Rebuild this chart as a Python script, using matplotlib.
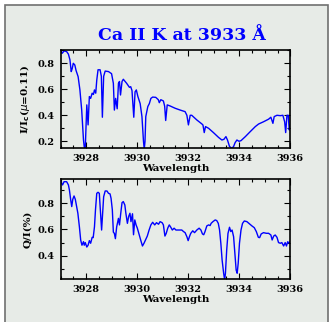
import numpy as np
import matplotlib
matplotlib.use('Agg')
import matplotlib.pyplot as plt
from matplotlib.patches import Rectangle
from matplotlib.ticker import MultipleLocator

# intensity profile I/Ic (mu=0.11)
wl_i = [3927.00, 3927.07, 3927.14, 3927.24, 3927.31, 3927.37, 3927.42, 3927.46, 3927.50,
        3927.56, 3927.61, 3927.69, 3927.76, 3927.83, 3927.90, 3927.93, 3927.97, 3928.03,
        3928.08, 3928.13, 3928.18, 3928.24, 3928.29, 3928.33, 3928.38, 3928.42, 3928.47,
        3928.55, 3928.60, 3928.64, 3928.69, 3928.75, 3928.88, 3929.00, 3929.07, 3929.11,
        3929.16, 3929.22, 3929.27, 3929.31, 3929.35, 3929.41, 3929.46, 3929.59, 3929.70,
        3929.75, 3929.80, 3929.87, 3929.92, 3929.97, 3930.03, 3930.12, 3930.19, 3930.25,
        3930.28, 3930.31, 3930.34, 3930.42, 3930.48, 3930.54, 3930.61, 3930.73, 3930.83,
        3930.87, 3930.93, 3931.03, 3931.08, 3931.12, 3931.18, 3931.29, 3931.49, 3931.69,
        3931.88, 3931.95, 3932.01, 3932.08, 3932.14, 3932.34, 3932.54, 3932.58, 3932.63,
        3932.68, 3932.80, 3932.99, 3933.19, 3933.32, 3933.40, 3933.48, 3933.54, 3933.62,
        3933.71, 3933.78, 3933.84, 3933.91, 3933.99, 3934.07, 3934.24, 3934.43, 3934.63,
        3934.76, 3934.95, 3935.15, 3935.24, 3935.32, 3935.37, 3935.48, 3935.61, 3935.71,
        3935.78, 3935.82, 3935.87, 3935.92, 3935.96, 3936.00]
inten = [0.900, 0.877, 0.895, 0.890, 0.870, 0.826, 0.736, 0.760, 0.800,
         0.787, 0.744, 0.697, 0.595, 0.440, 0.210, 0.155, 0.150, 0.480,
         0.326, 0.544, 0.530, 0.570, 0.560, 0.595, 0.570, 0.670, 0.750,
         0.750, 0.700, 0.385, 0.700, 0.740, 0.736, 0.720, 0.646, 0.440,
         0.530, 0.450, 0.646, 0.660, 0.556, 0.660, 0.677, 0.646, 0.615,
         0.620, 0.590, 0.385, 0.580, 0.595, 0.545, 0.490, 0.390, 0.200,
         0.140, 0.200, 0.390, 0.467, 0.490, 0.530, 0.540, 0.538, 0.520,
         0.497, 0.520, 0.510, 0.470, 0.360, 0.480, 0.472, 0.454, 0.440,
         0.428, 0.400, 0.326, 0.400, 0.400, 0.364, 0.333, 0.325, 0.267,
         0.313, 0.300, 0.267, 0.230, 0.210, 0.215, 0.236, 0.210, 0.160,
         0.146, 0.160, 0.190, 0.210, 0.200, 0.205, 0.236, 0.274, 0.313,
         0.333, 0.350, 0.370, 0.385, 0.338, 0.390, 0.400, 0.397, 0.400,
         0.350, 0.267, 0.400, 0.400, 0.287, 0.326]

# linear polarization Q/I
wl_q = [3927.00, 3927.05, 3927.08, 3927.14, 3927.24, 3927.31, 3927.35, 3927.40, 3927.44,
        3927.48, 3927.53, 3927.58, 3927.63, 3927.68, 3927.74, 3927.79, 3927.84, 3927.90,
        3927.93, 3927.97, 3928.03, 3928.08, 3928.13, 3928.18, 3928.24, 3928.28, 3928.33,
        3928.37, 3928.42, 3928.47, 3928.52, 3928.56, 3928.61, 3928.65, 3928.69, 3928.75,
        3928.82, 3928.88, 3928.94, 3928.98, 3929.03, 3929.07, 3929.11, 3929.15, 3929.20,
        3929.27, 3929.31, 3929.36, 3929.41, 3929.46, 3929.52, 3929.56, 3929.62, 3929.67,
        3929.72, 3929.76, 3929.82, 3929.86, 3929.91, 3929.96, 3930.01, 3930.08, 3930.14,
        3930.21, 3930.27, 3930.34, 3930.40, 3930.47, 3930.54, 3930.61, 3930.69, 3930.76,
        3930.84, 3930.90, 3930.98, 3931.03, 3931.09, 3931.14, 3931.20, 3931.26, 3931.32,
        3931.38, 3931.45, 3931.52, 3931.62, 3931.75, 3931.82, 3931.88, 3931.95, 3932.00,
        3932.05, 3932.10, 3932.18, 3932.25, 3932.34, 3932.43, 3932.50, 3932.56, 3932.61,
        3932.66, 3932.73, 3932.80, 3932.86, 3932.90, 3932.97, 3933.06, 3933.12, 3933.18,
        3933.23, 3933.28, 3933.33, 3933.39, 3933.43, 3933.46, 3933.51, 3933.56, 3933.62,
        3933.67, 3933.72, 3933.78, 3933.83, 3933.88, 3933.92, 3933.96, 3934.01, 3934.07,
        3934.13, 3934.20, 3934.30, 3934.41, 3934.50, 3934.59, 3934.67, 3934.75, 3934.80,
        3934.86, 3934.95, 3935.06, 3935.15, 3935.24, 3935.29, 3935.35, 3935.41, 3935.48,
        3935.54, 3935.61, 3935.67, 3935.74, 3935.80, 3935.85, 3935.90, 3935.95, 3936.00]
qi = [0.983, 0.950, 0.940, 0.965, 0.965, 0.940, 0.900, 0.825, 0.775,
      0.830, 0.856, 0.830, 0.775, 0.724, 0.620, 0.520, 0.480, 0.507,
      0.480, 0.500, 0.466, 0.480, 0.515, 0.495, 0.540, 0.538, 0.620,
      0.750, 0.876, 0.884, 0.876, 0.750, 0.596, 0.724, 0.850, 0.894,
      0.894, 0.876, 0.872, 0.838, 0.750, 0.580, 0.570, 0.530, 0.620,
      0.685, 0.635, 0.724, 0.805, 0.813, 0.787, 0.724, 0.647, 0.700,
      0.724, 0.660, 0.720, 0.560, 0.673, 0.635, 0.610, 0.560, 0.520,
      0.474, 0.495, 0.525, 0.550, 0.596, 0.635, 0.655, 0.635, 0.652,
      0.640, 0.660, 0.652, 0.635, 0.550, 0.570, 0.610, 0.635, 0.617,
      0.596, 0.610, 0.596, 0.596, 0.596, 0.584, 0.576, 0.545, 0.515,
      0.545, 0.570, 0.590, 0.576, 0.596, 0.610, 0.596, 0.566, 0.560,
      0.584, 0.627, 0.635, 0.630, 0.647, 0.660, 0.673, 0.668, 0.647,
      0.596, 0.495, 0.367, 0.266, 0.215, 0.266, 0.444, 0.570, 0.617,
      0.584, 0.596, 0.545, 0.418, 0.290, 0.266, 0.342, 0.495, 0.596,
      0.647, 0.665, 0.660, 0.642, 0.627, 0.614, 0.584, 0.540, 0.538,
      0.566, 0.576, 0.571, 0.571, 0.558, 0.520, 0.550, 0.558, 0.540,
      0.500, 0.495, 0.500, 0.474, 0.500, 0.474, 0.507, 0.495, 0.507]

bg = '#e7ebe7'
font = {'family': 'DejaVu Serif', 'weight': 'bold'}

fig = plt.figure(figsize=(3.33, 3.22), dpi=100, facecolor='white')
fig.patches.append(Rectangle((5 / 333, -0.05), 323 / 333, 1.05 - 4.5 / 322,
                             transform=fig.transFigure, facecolor=bg,
                             edgecolor='#707070', linewidth=1.2, zorder=-10))

ax1 = fig.add_axes([0.1817, 0.5394, 0.690, 0.3053])
ax2 = fig.add_axes([0.1817, 0.1335, 0.690, 0.3096])

ax1.plot(wl_i, inten, color='#0000ff', lw=1.0)
ax2.plot(wl_q, qi, color='#0000ff', lw=1.0)

ax1.set_ylim(0.146, 0.902)
ax2.set_ylim(0.222, 0.983)
ax1.set_ylabel(r'I/I$_\mathbf{c}$($\mu$=0.11)', fontsize=7.5, labelpad=4, **font)
ax2.set_ylabel('Q/I(%)', fontsize=7.5, labelpad=4, **font)

for ax in (ax1, ax2):
    ax.set_facecolor(bg)
    ax.set_xlim(3927, 3936)
    ax.xaxis.set_major_locator(MultipleLocator(2))
    ax.xaxis.set_minor_locator(MultipleLocator(0.5))
    ax.yaxis.set_major_locator(MultipleLocator(0.2))
    ax.yaxis.set_minor_locator(MultipleLocator(0.1))
    ax.tick_params(which='both', direction='in', top=True, right=True, width=0.8)
    ax.tick_params(which='major', length=4, labelsize=7, pad=4)
    ax.tick_params(which='minor', length=2)
    for lab in ax.get_xticklabels() + ax.get_yticklabels():
        lab.set_family('DejaVu Serif')
        lab.set_weight('bold')
    for s in ax.spines.values():
        s.set_linewidth(1.2)
    ax.set_xlabel('Wavelength', fontsize=7.5, labelpad=1, **font)

fig.text(181.5 / 333, 1 - 35 / 322, 'Ca II K at 3933 Å', color='#0000ff',
         fontsize=12.5, ha='center', va='center', **font)

fig.savefig('out.png', dpi=100, facecolor=fig.get_facecolor())
